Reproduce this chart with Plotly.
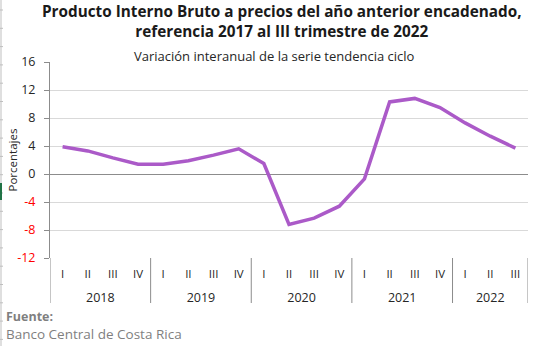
import plotly.graph_objects as go

# Quarterly year-on-year growth of the trend-cycle series (%)
years = ["2018"] * 4 + ["2019"] * 4 + ["2020"] * 4 + ["2021"] * 4 + ["2022"] * 3
quarters = ["I", "II", "III", "IV"] * 4 + ["I", "II", "III"]
growth = [3.9, 3.3, 2.3, 1.4,
          1.4, 1.9, 2.7, 3.6,
          1.5, -7.2, -6.3, -4.6,
          -0.7, 10.3, 10.8, 9.5,
          7.3, 5.4, 3.7]

y_ticks = [16, 12, 8, 4, 0, -4, -8, -12]
y_text = [str(v) if v >= 0 else f'<span style="color:#FF0000">{v}</span>' for v in y_ticks]

W, H = 543, 346
M_L, M_R, M_T, M_B = 50, 15, 62, 88
PLOT_W = W - M_L - M_R
PLOT_H = H - M_T - M_B

FONT = "Open Sans"
TEXT = "#262626"
AXIS = "#8C8C8C"
LINE = "#AB5AC8"

# position of each quarter on the category axis
idx = list(range(len(growth)))

# year groups: centre of each group and the boundaries between groups
year_names, year_centres, bounds = [], [], [-0.5]
for i, y in enumerate(years):
    if not year_names or year_names[-1] != y:
        year_names.append(y)
        start = i
    if i == len(years) - 1 or years[i + 1] != y:
        year_centres.append((start + i) / 2)
        bounds.append(i + 0.5)

fig = go.Figure()
fig.add_trace(go.Scatter(
    x=idx, y=growth, mode="lines",
    line=dict(color=LINE, width=3.5),
    hoverinfo="skip", showlegend=False,
))
# invisible trace carrying the year axis
fig.add_trace(go.Scatter(
    x=year_centres, y=[None] * len(year_centres), xaxis="x2", mode="lines",
    hoverinfo="skip", showlegend=False,
))

xr = [-0.5, len(growth) - 0.5]
depth = 45 / PLOT_H  # how far the group dividers reach below the plot


def px_x(p):
    return (p - M_L) / PLOT_W


def px_y(p):
    return (H - M_B - p) / PLOT_H


shapes = [
    dict(type="line", xref="x", yref="paper", x0=b, x1=b, y0=0, y1=-depth,
         line=dict(color=AXIS, width=1), layer="above")
    for b in bounds
]
# worksheet border at the far left
shapes.append(dict(type="line", xref="paper", yref="paper",
                   x0=px_x(1), x1=px_x(1), y0=px_y(H), y1=px_y(0),
                   line=dict(color="#BFBFBF", width=1)))
for k in range(19):
    yp = px_y(10 + k * 18.3)
    shapes.append(dict(type="line", xref="paper", yref="paper",
                       x0=px_x(0), x1=px_x(3), y0=yp, y1=yp,
                       line=dict(color="#BFBFBF", width=1)))
shapes.append(dict(type="rect", xref="paper", yref="paper",
                   x0=px_x(0), x1=px_x(2), y0=px_y(200), y1=px_y(183),
                   fillcolor="#217346", line=dict(width=0)))

fig.update_layout(
    width=W, height=H,
    margin=dict(l=M_L, r=M_R, t=M_T, b=M_B, autoexpand=False),
    paper_bgcolor="white", plot_bgcolor="white",
    font=dict(family=FONT, size=12, color=TEXT),
    xaxis=dict(
        range=xr, tickmode="array", tickvals=idx, ticktext=quarters,
        showline=False, showgrid=False, zeroline=False, ticks="",
        automargin=False,
        ticklabelstandoff=7, tickfont=dict(size=11.5, color=TEXT),
    ),
    xaxis2=dict(
        overlaying="x", anchor="y", side="bottom", range=xr,
        tickmode="array", tickvals=year_centres, ticktext=year_names,
        showline=False, showgrid=False, zeroline=False, ticks="",
        automargin=False,
        ticklabelstandoff=30, tickfont=dict(size=12.5, color=TEXT),
    ),
    yaxis=dict(
        range=[-12, 16], tickvals=y_ticks, ticktext=y_text,
        showgrid=True, gridcolor="#D9D9D9", gridwidth=1,
        zeroline=True, zerolinecolor=AXIS, zerolinewidth=1,
        showline=True, linecolor=AXIS, linewidth=1,
        ticks="outside", ticklen=5, tickcolor=AXIS,
        ticklabelstandoff=6, automargin=False,
        tickfont=dict(size=12.5, color=TEXT),
    ),
    shapes=shapes,
    annotations=[
        dict(text="<b>Producto Interno Bruto a precios del año anterior encadenado,"
                  "<br>referencia 2017 al III trimestre de 2022</b>",
             xref="paper", yref="paper", x=0.5, y=1, xanchor="center", yanchor="middle",
             xshift=-7, yshift=M_T - 20.5, showarrow=False, align="center",
             font=dict(family=FONT, size=15.3, color="#1A1A1A")),
        dict(text="Variación interanual de la serie tendencia ciclo",
             xref="paper", yref="paper", x=0.5, y=1, xanchor="center", yanchor="middle",
             xshift=-15, yshift=M_T - 56, showarrow=False,
             font=dict(family=FONT, size=13, color=TEXT)),
        # y-axis title
        dict(text="Porcentajes", xref="paper", yref="paper",
             x=px_x(11.5), y=px_y(160), xanchor="center", yanchor="middle",
             textangle=-90, showarrow=False,
             font=dict(family=FONT, size=11.5, color=TEXT)),
        dict(text="<b>Fuente:</b>", xref="paper", yref="paper", x=0, y=0,
             xanchor="left", yanchor="middle", xshift=-M_L + 4, yshift=-(316 - (H - M_B)),
             showarrow=False, font=dict(family=FONT, size=12.5, color="#7F7F7F")),
        dict(text="Banco Central de Costa Rica", xref="paper", yref="paper", x=0, y=0,
             xanchor="left", yanchor="middle", xshift=-M_L + 4, yshift=-(334 - (H - M_B)),
             showarrow=False, font=dict(family=FONT, size=13.5, color="#7F7F7F")),
    ],
)

fig.write_html("out.html")
